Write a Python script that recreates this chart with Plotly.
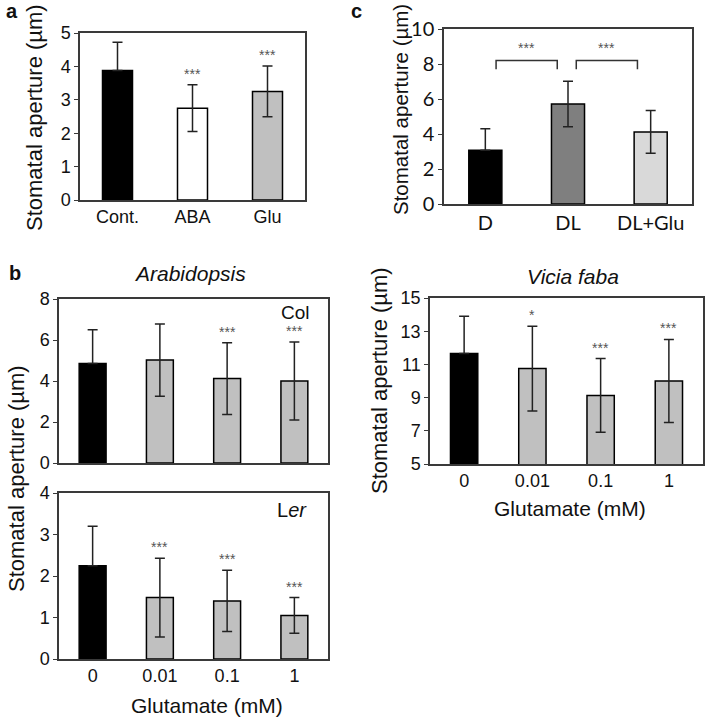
import plotly.graph_objects as go

# ---- data ----
# panel a
a_labels = ["Cont.", "ABA", "Glu"]
a_mean = [3.88, 2.75, 3.25]
a_err = [0.84, 0.70, 0.76]
a_sig = ["", "***", "***"]
a_colors = ["#000000", "#ffffff", "#c0c0c0"]

# panel c
c_labels = ["D", "DL", "DL+Glu"]
c_mean = [3.07, 5.72, 4.12]
c_err = [1.23, 1.30, 1.22]
c_colors = ["#000000", "#7f7f7f", "#d9d9d9"]
c_brackets = [[0.13, 0.87, "***"], [1.10, 1.84, "***"]]
c_bracket_y = [8.2, 7.7]

# panel b (Arabidopsis)
glu_labels = ["0", "0.01", "0.1", "1"]
col_mean = [4.85, 5.02, 4.12, 4.00]
col_err = [1.65, 1.76, 1.75, 1.90]
col_sig = ["", "", "***", "***"]
ler_mean = [2.25, 1.48, 1.40, 1.05]
ler_err = [0.95, 0.95, 0.74, 0.43]
ler_sig = ["", "***", "***", "***"]

# Vicia faba
vf_mean = [11.65, 10.75, 9.13, 10.00]
vf_err = [2.25, 2.55, 2.22, 2.50]
vf_sig = ["", "*", "***", "***"]

glu_colors = ["#000000", "#c0c0c0", "#c0c0c0", "#c0c0c0"]

W, H = 705, 718
FONT = "Liberation Sans, Arial, sans-serif"
FRAME = "#3a3a3a"


def xd(l, r):
    return [l / W, r / W]


def yd(t, b):
    return [1 - b / H, 1 - t / H]


fig = go.Figure()
annotations = []
shapes = []


def add_panel(n, labels, mean, err, colors, sig, xdom, ydom, yrange, dtick,
              tickfont=None):
    xs = list(range(len(labels)))
    xa = "x" if n == 1 else f"x{n}"
    ya = "y" if n == 1 else f"y{n}"
    # lower whisker is hidden behind the black control bars
    err_minus = [0 if c == "#000000" else e for c, e in zip(colors, err)]
    fig.add_trace(go.Bar(
        x=xs, y=mean, xaxis=xa, yaxis=ya, width=0.4,
        marker=dict(color=colors, line=dict(color="#000000", width=1.5)),
        error_y=dict(type="data", array=err, arrayminus=err_minus,
                     symmetric=False, visible=True,
                     color="#222222", thickness=1.5, width=5),
        showlegend=False, hoverinfo="skip"))
    tf = tickfont or dict(family=FONT, size=18, color="#111111")
    key = "" if n == 1 else str(n)
    fig.layout["xaxis" + key] = dict(
        domain=xdom, anchor=ya, range=[-0.5, len(labels) - 0.5],
        tickvals=xs, ticktext=labels, showline=True, mirror=True,
        linecolor=FRAME, linewidth=1.5, ticks="", showgrid=False,
        zeroline=False, tickfont=tf, fixedrange=True)
    fig.layout["yaxis" + key] = dict(
        domain=ydom, anchor=xa, range=yrange, dtick=dtick,
        tick0=yrange[0], showline=True, mirror=True, linecolor=FRAME,
        linewidth=1.5, ticks="outside", ticklen=4, tickcolor=FRAME,
        tickwidth=1, showgrid=False, zeroline=False, tickfont=tf,
        fixedrange=True)
    for i, s in enumerate(sig):
        if s:
            annotations.append(dict(
                x=i, y=mean[i] + err[i], xref=xa, yref=ya, text=s,
                showarrow=False, yanchor="bottom", yshift=1,
                font=dict(family=FONT, size=14, color="#555555")))


add_panel(1, a_labels, a_mean, a_err, a_colors, a_sig,
          xd(80, 305), yd(33, 200), [0, 5], 1)
add_panel(2, c_labels, c_mean, c_err, c_colors, ["", "", ""],
          xd(444, 692), yd(29, 204), [0, 10], 2,
          tickfont=dict(family="Lato, sans-serif", size=20, color="#111111"))
add_panel(3, glu_labels, col_mean, col_err, glu_colors, col_sig,
          xd(59, 328), yd(299, 463), [0, 8], 2)
add_panel(4, glu_labels, ler_mean, ler_err, glu_colors, ler_sig,
          xd(59, 328), yd(493, 659), [0, 4], 1)
add_panel(5, glu_labels, vf_mean, vf_err, glu_colors, vf_sig,
          xd(430, 703), yd(298, 464), [5, 15], 2)

# hide x tick labels of the Col panel
fig.layout.xaxis3.showticklabels = False

# brackets in panel c
for x0, x1, s in c_brackets:
    top, tip = c_bracket_y
    shapes.append(dict(type="path", xref="x2", yref="y2",
                       path=f"M {x0},{tip} L {x0},{top} L {x1},{top} L {x1},{tip}",
                       line=dict(color="#333333", width=1.5)))
    annotations.append(dict(x=(x0 + x1) / 2, y=top, xref="x2", yref="y2",
                            text=s, showarrow=False, yanchor="bottom", yshift=3,
                            font=dict(family=FONT, size=14, color="#555555")))


def paper_text(text, px, py, size=21, angle=0, **kw):
    annotations.append(dict(x=px / W, y=1 - py / H, xref="paper", yref="paper",
                            text=text, showarrow=False, textangle=angle,
                            xanchor="center", yanchor="middle",
                            font=dict(family=FONT, size=size, color="#111111"),
                            **kw))


ytitle = "Stomatal aperture (µm)"
paper_text(ytitle, 35, 118, size=22, angle=-90)
paper_text(ytitle, 400, 110, size=20.5, angle=-90)
paper_text(ytitle, 16, 479, size=22, angle=-90)
paper_text(ytitle, 379, 381, size=22, angle=-90)

paper_text("<b>a</b>", 12, 11, size=20)
paper_text("<b>b</b>", 15, 273, size=20)
paper_text("<b>c</b>", 357, 11, size=20)

paper_text("<i>Arabidopsis</i>", 190, 273)
paper_text("<i>Vicia faba</i>", 573, 277)
paper_text("Col", 295, 312, size=19)
paper_text("L<i>er</i>", 292, 510, size=20)
paper_text("Glutamate (mM)", 207, 705)
paper_text("Glutamate (mM)", 570, 508)

fig.update_layout(
    width=W, height=H, margin=dict(l=0, r=0, t=0, b=0, autoexpand=False),
    paper_bgcolor="white", plot_bgcolor="white",
    bargap=0.6, annotations=annotations, shapes=shapes,
    font=dict(family=FONT))

fig.write_html("out.html", config={"displayModeBar": False},
               post_script="document.body.style.margin = '0';")
